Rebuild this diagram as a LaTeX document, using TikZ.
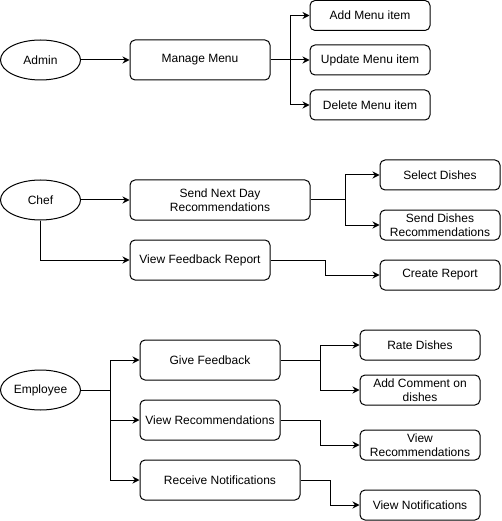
\documentclass[tikz,border=0pt]{standalone}
\usepackage{fontspec}
\setmainfont{Liberation Sans}
\usetikzlibrary{shapes.geometric,arrows.meta}

\begin{document}
\begin{tikzpicture}[x=1pt,y=-1pt,
  font=\fontsize{12}{14.5}\selectfont,
  actor/.style={draw, ellipse, line width=1pt, minimum width=80pt, minimum height=40pt, inner sep=0pt},
  task/.style={draw, rounded corners=5pt, line width=1pt, minimum width=140pt, minimum height=40pt, inner sep=0pt, align=center},
  subtask/.style={draw, rounded corners=5pt, line width=1pt, minimum width=120pt, minimum height=30pt, inner sep=0pt, align=center},
  arr/.style={-{Stealth[length=7pt,width=7pt]}, line width=1pt}]

\useasboundingbox (0,0) rectangle (501,521);

% Admin
\draw(40.5,60) node[actor] (admin) {Admin};
\draw(200,60) node[task] (manage) {Manage Menu};
\draw(370,15.5) node[subtask] (addmenu) {Add Menu item};
\draw(370,60) node[subtask] (updmenu) {Update Menu item};
\draw(370,105) node[subtask] (delmenu) {Delete Menu item};
\coordinate (mj) at (290,60);
\draw[arr] (admin) -- (manage);
\draw[arr] (manage.east) -- (updmenu.west);
\draw[arr] (mj) |- (addmenu.west);
\draw[arr] (mj) |- (delmenu.west);

% Chef
\draw(40.5,200) node[actor] (chef) {Chef};
\draw(220,200) node[task, minimum width=180pt] (sendrec) {Send Next Day\\Recommendations};
\draw(440,175) node[subtask] (select) {Select Dishes};
\draw(440,225) node[subtask] (senddish) {Send Dishes\\Recommendations};
\draw(200,260) node[task] (viewfb) {View Feedback Report};
\draw(440,275) node[subtask] (create) {Create Report};
\coordinate (sj) at (345,200);
\coordinate (cj) at (325,275);
\draw[arr] (chef) -- (sendrec);
\draw[arr] (chef.south) |- (viewfb.west);
\draw[arr] (sendrec.east) -- (sj) |- (select.west);
\draw[arr] (sj) |- (senddish.west);
\draw[arr] (viewfb.east) -| (cj) -- (create.west);

% Employee
\draw(40.5,390) node[actor] (employee) {Employee};
\draw(210,360) node[task] (givefb) {Give Feedback};
\draw(210,420) node[task] (viewrec) {View Recommendations};
\draw(220,480) node[task, minimum width=160pt] (receive) {Receive Notifications};
\draw(420,345) node[subtask] (rate) {Rate Dishes};
\draw(420,390) node[subtask] (comment) {Add Comment on\\dishes};
\draw(420,445) node[subtask] (seerec) {View\\Recommendations};
\draw(420,505) node[subtask] (seenote) {View Notifications};
\coordinate (ej) at (110,390);
\coordinate (gj) at (320,360);
\coordinate (vj) at (320,445);
\coordinate (rj) at (330,505);
\draw[arr] (employee.east) -- (ej) |- (givefb.west);
\draw[arr] (ej) |- (viewrec.west);
\draw[arr] (ej) |- (receive.west);
\draw[arr] (givefb.east) -- (gj) |- (rate.west);
\draw[arr] (gj) |- (comment.west);
\draw[arr] (viewrec.east) -| (vj) -- (seerec.west);
\draw[arr] (receive.east) -| (rj) -- (seenote.west);

\end{tikzpicture}
\end{document}
